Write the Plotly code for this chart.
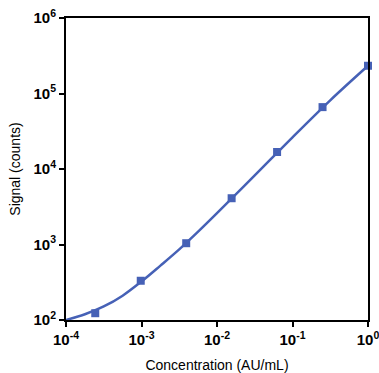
import plotly.graph_objects as go

# measured standards (4-fold dilution series)
conc = [2.44e-4, 9.77e-4, 3.91e-3, 1.5625e-2, 6.25e-2, 0.25, 1.0]
signal = [123, 331, 1040, 4100, 16800, 66000, 233000]

# fitted curve
curve_x = [1e-4, 1.78e-4, 3.16e-4, 5.62e-4, 1e-3, 1.78e-3, 3.16e-3, 5.62e-3,
           1e-2, 3.16e-2, 1e-1, 3.16e-1, 1.0]
curve_y = [100, 119, 151, 210, 324, 525, 861, 1479,
           2600, 8220, 26300, 81300, 233000]

x_ticks = [1e-4, 1e-3, 1e-2, 1e-1, 1]
x_labels = ["<b>10<sup>-4</sup></b>", "<b>10<sup>-3</sup></b>", "<b>10<sup>-2</sup></b>",
            "<b>10<sup>-1</sup></b>", "<b>10<sup>0</sup></b>"]
y_ticks = [1e2, 1e3, 1e4, 1e5, 1e6]
y_labels = ["<b>10<sup>2</sup></b>", "<b>10<sup>3</sup></b>", "<b>10<sup>4</sup></b>",
            "<b>10<sup>5</sup></b>", "<b>10<sup>6</sup></b>"]

blue = "#4661B6"
font = "Liberation Sans, Arial"

fig = go.Figure()
fig.add_trace(go.Scatter(x=curve_x, y=curve_y, mode="lines",
                         line=dict(color=blue, width=2.5, shape="spline", smoothing=1),
                         hoverinfo="skip", cliponaxis=False))
fig.add_trace(go.Scatter(x=conc, y=signal, mode="markers",
                         marker=dict(symbol="square", size=8, color=blue),
                         cliponaxis=False))

axis_common = dict(type="log", showgrid=False, zeroline=False, automargin=False,
                   showline=True, linecolor="black", linewidth=2, mirror=True,
                   ticks="outside", ticklen=5, tickwidth=2, tickcolor="black",
                   ticklabeloverflow="allow",
                   tickfont=dict(family=font, size=15, color="black"))

fig.update_xaxes(range=[-4, 0], tickvals=x_ticks, ticktext=x_labels,
                 title=dict(text="Concentration (AU/mL)", standoff=14,
                            font=dict(family=font, size=14, color="black")),
                 **axis_common)
fig.update_yaxes(range=[2, 6], tickvals=y_ticks, ticktext=y_labels,
                 title=dict(text="Signal (counts)", standoff=10,
                            font=dict(family=font, size=14, color="black")),
                 **axis_common)

fig.update_layout(width=379, height=373, showlegend=False,
                  plot_bgcolor="white", paper_bgcolor="white",
                  margin=dict(l=66, r=11, t=18, b=53))

# drop the default page margin so the figure sits at the window's corner
fig.write_html("out.html", config={"displayModeBar": False},
               post_script="document.body.style.margin='0';")
